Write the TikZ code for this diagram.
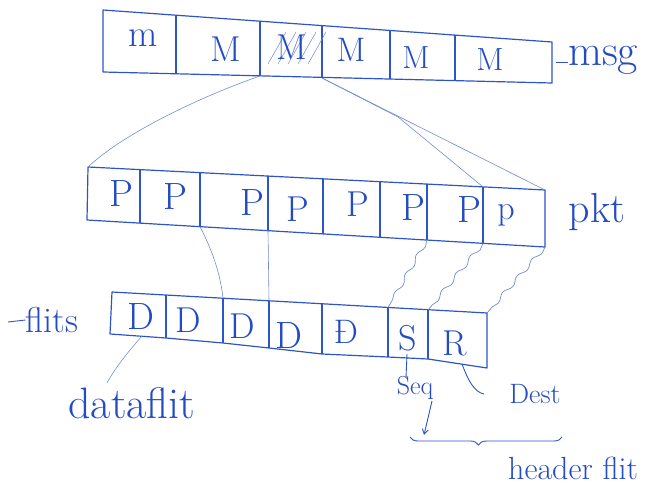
\documentclass[tikz,border=0pt]{standalone}
\usepackage{fontspec}
\usetikzlibrary{decorations.pathmorphing,decorations.pathreplacing,arrows.meta}
\definecolor{pen}{RGB}{45,85,200}
\definecolor{ink}{RGB}{35,75,195}
\definecolor{faint}{RGB}{115,140,205}
\newcommand{\myfs}[1]{\fontsize{#1}{#1}\selectfont}
\begin{document}
\begin{tikzpicture}[x=1pt,y=-1pt,
  box/.style={draw=pen,line width=1.2pt,line join=round},
  thinline/.style={draw=faint,line width=0.6pt},
  penline/.style={draw=pen,line width=0.9pt},
  wavy/.style={draw=faint,line width=0.7pt,decorate,decoration={snake,amplitude=2pt,segment length=22pt}},
  lbl/.style={text=ink,inner sep=0pt,anchor=center}]
\useasboundingbox (0,0) rectangle (648,490);

% ---------- msg row ----------
\coordinate (mA) at (103,10);
\coordinate (mB) at (552,42);
\coordinate (mC) at (552,83);
\coordinate (mD) at (103,72);
\coordinate (mt1) at (176,15);  \coordinate (mb1) at (176,74);
\coordinate (mt2) at (260,21);  \coordinate (mb2) at (260,76);
\coordinate (mt3) at (322,26);  \coordinate (mb3) at (322,78);
\coordinate (mt4) at (390,30);  \coordinate (mb4) at (390,79);
\coordinate (mt5) at (455,35);  \coordinate (mb5) at (455,81);
\draw[box] (mA) -- (mB) -- (mC) -- (mD) -- cycle;
\foreach \i in {1,...,5} \draw[box] (mt\i) -- (mb\i);

% hatching on third M
\foreach \a in {268,278,288,298,308}
  \draw[faint,line width=0.5pt] (\a,64) -- (\a+18,32);

\node[lbl,font=\myfs{38}] (m1) at (143,38) {m};
\node[lbl,font=\myfs{36}] (m2) at (226,49) {M};
\node[lbl,font=\myfs{36}] (m3) at (292,47) {M};
\node[lbl,font=\myfs{34}] (m4) at (351,50) {M};
\node[lbl,font=\myfs{32}] (m5) at (416,58) {M};
\node[lbl,font=\myfs{32}] (m6) at (490,60) {M};
\coordinate (msgdash) at (568,62);
\node[lbl,font=\myfs{44},anchor=west] (msg) at (568,60) {msg};
\draw[penline] (mC |- msgdash) ++(4,0) -- (msgdash);

% ---------- pkt row ----------
\coordinate (pA) at (88,167);
\coordinate (pB) at (545,190);
\coordinate (pC) at (545,247);
\coordinate (pD) at (87,220);
\coordinate (pt1) at (140,169.6); \coordinate (pb1) at (140,223.1);
\coordinate (pt2) at (200,172.6); \coordinate (pb2) at (200,226.7);
\coordinate (pt3) at (268,176.0); \coordinate (pb3) at (268,230.7);
\coordinate (pt4) at (323,178.8); \coordinate (pb4) at (323,233.9);
\coordinate (pt5) at (380,181.7); \coordinate (pb5) at (380,237.3);
\coordinate (pt6) at (427,184.1); \coordinate (pb6) at (427,240.1);
\coordinate (pt7) at (483,186.9); \coordinate (pb7) at (483,243.4);
\draw[box] (pA) -- (pB) -- (pC) -- (pD) -- cycle;
\foreach \i in {1,...,7} \draw[box] (pt\i) -- (pb\i);

\node[lbl,font=\myfs{38}] (p1) at (121,194) {P};
\node[lbl,font=\myfs{38}] (p2) at (175,197) {P};
\node[lbl,font=\myfs{38}] (p3) at (252,203) {P};
\node[lbl,font=\myfs{36}] (p4) at (298,209) {P};
\node[lbl,font=\myfs{36}] (p5) at (358,204) {P};
\node[lbl,font=\myfs{38}] (p6) at (413,208) {P};
\node[lbl,font=\myfs{38}] (p7) at (469,210) {P};
\node[lbl,font=\myfs{34}] (p8) at (506,215) {p};
\node[lbl,font=\myfs{42}] (pkt) at (597,212) {pkt};

% ---------- msg -> pkt ----------
\coordinate (split) at (398,117);
\draw[thinline] (mb2) .. controls (205,95) and (125,132) .. (pA);
\draw[thinline] (mb3) -- (pB);
\draw[thinline] (mb3) -- (split) -- (pt7);

% ---------- flit row ----------
\coordinate (fA) at (112,292);
\coordinate (fB) at (487,313);
\coordinate (fC) at (487,368);
\coordinate (fD) at (110,334);
\coordinate (ft1) at (166,295);   \coordinate (fb1) at (166,338);
\coordinate (ft2) at (223,298);   \coordinate (fb2) at (223,343);
\coordinate (ft3) at (269,301);   \coordinate (fb3) at (269,348);
\coordinate (ft4) at (322,304);   \coordinate (fb4) at (322,354);
\coordinate (ft5) at (388,307.5); \coordinate (fb5) at (388,357);
\coordinate (ft6) at (428,310);   \coordinate (fb6) at (428,359);
\draw[box] (fA) -- (fB) -- (fC) -- (fb6) -- (fb5) -- (fb4) -- (fb3) -- (fb2) -- (fb1) -- (fD) -- cycle;
\foreach \i in {1,...,6} \draw[box] (ft\i) -- (fb\i);

\node[lbl,font=\myfs{38}] (d1) at (141,317) {D};
\node[lbl,font=\myfs{36}] (d2) at (188,320) {D};
\node[lbl,font=\myfs{36}] (d3) at (242,326) {D};
\node[lbl,font=\myfs{38}] (d4) at (289,336) {D};
\node[lbl,font=\myfs{34}] (d5) at (346,332) {Đ};
\node[lbl,font=\myfs{36}] (s6) at (408,338) {S};
\node[lbl,font=\myfs{36}] (r7) at (455,343) {R};
\node[lbl,font=\myfs{36}] (flits) at (52,320) {flits};
\coordinate (flitdash) at (8,322);
\draw[penline] (flitdash) -- (flits.west);

% ---------- pkt -> flit ----------
\draw[thinline] (pb2) .. controls (212,250) and (220,272) .. (ft2);
\draw[thinline] (pb3) -- (ft3);
\draw[wavy] (pb6) -- (ft5);
\draw[wavy] (pb7) -- (ft6);
\draw[wavy] (pC) -- (fB);

% ---------- annotations ----------
\node[lbl,font=\myfs{44}] (dataflit) at (132,403) {dataflit};
\coordinate (dfa) at (142,336);
\coordinate (dfb) at (107,383);
\draw[thinline] (dfa) .. controls (128,352) and (115,368) .. (dfb);

\node[lbl,font=\myfs{26}] (seq) at (415,388) {Seq};
\coordinate (sa) at (407,354);
\coordinate (sb) at (406,378);
\draw[penline] (sa) -- (sb);

\node[lbl,font=\myfs{28}] (dest) at (535,394) {Dest};
\coordinate (ra) at (462,364);
\coordinate (rb) at (484,394);
\draw[penline] (ra) .. controls (468,380) and (474,392) .. (rb);

\coordinate (arrA) at (432,401);
\coordinate (arrB) at (424,435);
\draw[penline,-{Straight Barb[length=5pt,width=6pt]}] (arrA) -- (arrB);

\coordinate (brA) at (410,437);
\coordinate (brB) at (562,437);
\draw[penline,decorate,decoration={brace,amplitude=8pt,mirror,aspect=0.45}] (brA) -- (brB);

\node[lbl,font=\myfs{32}] (header) at (573,468) {header flit};
\end{tikzpicture}
\end{document}
